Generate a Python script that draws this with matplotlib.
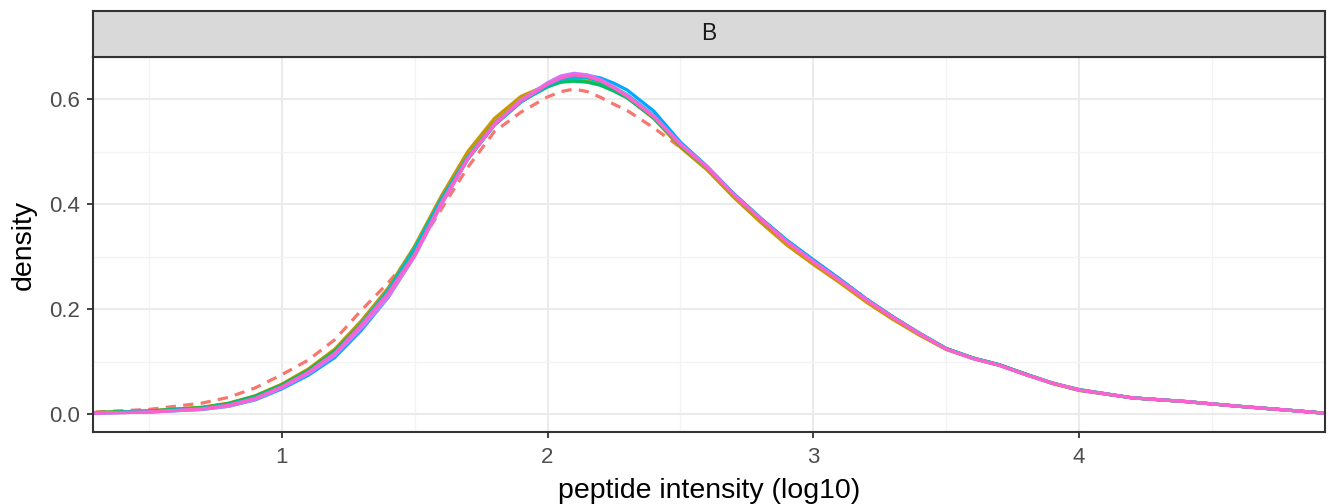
import matplotlib.pyplot as plt
from matplotlib.patches import Rectangle

plt.rcParams["font.family"] = ["Liberation Sans", "DejaVu Sans"]

# =========================
# data
# =========================
x_vals = [0.3, 0.5, 0.7, 0.8, 0.9,
          1.0, 1.1, 1.2, 1.3, 1.4, 1.5, 1.6, 1.7, 1.8, 1.9,
          2.0, 2.05, 2.1, 2.15, 2.2, 2.25, 2.3,
          2.4, 2.5, 2.6, 2.7, 2.8, 2.9,
          3.0, 3.1, 3.2, 3.3, 3.4, 3.5, 3.6, 3.7, 3.8, 3.9,
          4.0, 4.2, 4.4, 4.6, 4.8, 4.92]

# dashed reference sample
s1 = [0.004, 0.009, 0.021, 0.032, 0.050,
      0.075, 0.103, 0.142, 0.198, 0.250, 0.308, 0.390, 0.470, 0.538, 0.575,
      0.604, 0.614, 0.619, 0.614, 0.603, 0.590, 0.578,
      0.545, 0.508, 0.468, 0.417, 0.371, 0.327,
      0.289, 0.253, 0.216, 0.183, 0.152, 0.124, 0.107, 0.094, 0.076, 0.059,
      0.046, 0.031, 0.024, 0.015, 0.007, 0.002]
s2 = [0.003, 0.006, 0.013, 0.021, 0.035,
      0.057, 0.086, 0.124, 0.178, 0.240, 0.320, 0.415, 0.500, 0.563, 0.605,
      0.627, 0.634, 0.636, 0.634, 0.628, 0.617, 0.603,
      0.563, 0.508, 0.465, 0.413, 0.366, 0.322,
      0.285, 0.250, 0.213, 0.180, 0.150, 0.123, 0.106, 0.093, 0.075, 0.058,
      0.045, 0.031, 0.024, 0.015, 0.007, 0.002]
s3 = [0.003, 0.006, 0.013, 0.020, 0.034,
      0.056, 0.084, 0.121, 0.174, 0.235, 0.312, 0.405, 0.490, 0.555, 0.598,
      0.625, 0.633, 0.635, 0.633, 0.627, 0.616, 0.603,
      0.563, 0.510, 0.468, 0.417, 0.371, 0.329,
      0.292, 0.255, 0.218, 0.184, 0.153, 0.125, 0.107, 0.094, 0.076, 0.059,
      0.046, 0.031, 0.024, 0.015, 0.007, 0.002]
s4 = [0.003, 0.006, 0.012, 0.020, 0.034,
      0.055, 0.083, 0.120, 0.172, 0.232, 0.308, 0.400, 0.486, 0.551, 0.595,
      0.623, 0.632, 0.634, 0.632, 0.626, 0.615, 0.602,
      0.564, 0.512, 0.470, 0.419, 0.373, 0.331,
      0.293, 0.257, 0.219, 0.185, 0.154, 0.125, 0.107, 0.094, 0.076, 0.059,
      0.047, 0.031, 0.024, 0.015, 0.007, 0.002]
s5 = [0.002, 0.005, 0.011, 0.018, 0.031,
      0.052, 0.080, 0.117, 0.172, 0.236, 0.316, 0.410, 0.490, 0.552, 0.595,
      0.626, 0.637, 0.641, 0.640, 0.633, 0.622, 0.608,
      0.569, 0.515, 0.471, 0.420, 0.374, 0.331,
      0.293, 0.256, 0.219, 0.185, 0.154, 0.125, 0.107, 0.094, 0.076, 0.059,
      0.046, 0.031, 0.024, 0.015, 0.007, 0.002]
s6 = [0.002, 0.004, 0.009, 0.015, 0.027,
      0.048, 0.074, 0.108, 0.160, 0.222, 0.302, 0.400, 0.485, 0.550, 0.594,
      0.627, 0.640, 0.646, 0.645, 0.640, 0.630, 0.617,
      0.577, 0.518, 0.472, 0.420, 0.374, 0.331,
      0.294, 0.257, 0.219, 0.185, 0.153, 0.124, 0.106, 0.093, 0.075, 0.059,
      0.046, 0.031, 0.024, 0.015, 0.007, 0.002]
s7 = [0.002, 0.004, 0.009, 0.015, 0.028,
      0.050, 0.077, 0.112, 0.164, 0.222, 0.300, 0.398, 0.486, 0.552, 0.598,
      0.631, 0.644, 0.649, 0.646, 0.637, 0.623, 0.607,
      0.568, 0.515, 0.471, 0.419, 0.373, 0.329,
      0.291, 0.255, 0.218, 0.184, 0.153, 0.124, 0.106, 0.093, 0.075, 0.059,
      0.046, 0.031, 0.024, 0.015, 0.007, 0.002]
s8 = [0.002, 0.004, 0.010, 0.017, 0.030,
      0.052, 0.080, 0.116, 0.170, 0.230, 0.304, 0.402, 0.487, 0.552, 0.596,
      0.628, 0.640, 0.646, 0.643, 0.635, 0.621, 0.605,
      0.566, 0.513, 0.470, 0.418, 0.372, 0.328,
      0.290, 0.254, 0.217, 0.184, 0.153, 0.124, 0.106, 0.093, 0.075, 0.059,
      0.046, 0.031, 0.024, 0.015, 0.007, 0.002]

series = [s1, s2, s3, s4, s5, s6, s7, s8]
colors = ["#F8766D", "#CD9600", "#7CAE00", "#00BE67", "#00BFC4", "#00A9FF", "#C77CFF", "#FF61CC"]
dashed = [True, False, False, False, False, False, False, False]

facet_label = "B"
x_ticks = [1, 2, 3, 4]
y_ticks = [0.0, 0.2, 0.4, 0.6]

# =========================
# figure
# =========================
W, H = 1329, 504
fig = plt.figure(figsize=(W / 100, H / 100), dpi=100)
fig.patch.set_facecolor("white")

left, right, top, bottom = 93, 1325, 57, 432
ax = fig.add_axes([left / W, 1 - bottom / H, (right - left) / W, (bottom - top) / H])
ax.set_facecolor("white")

for y, is_dash, c in zip(series, dashed, colors):
    line, = ax.plot(x_vals, y, color=c, lw=2.3, solid_joinstyle="round")
    if is_dash:
        line.set_dashes((3.2, 2.3))

ax.set_xlim(0.29, 4.925)
ax.set_ylim(-0.034, 0.68)

ax.set_xticks(x_ticks)
ax.set_xticklabels([str(t) for t in x_ticks])
ax.set_yticks(y_ticks)
ax.set_yticklabels([f"{t:.1f}" for t in y_ticks])
ax.set_xticks([0.5, 1.5, 2.5, 3.5, 4.5], minor=True)
ax.set_yticks([0.1, 0.3, 0.5], minor=True)

ax.grid(True, which="major", color="#EBEBEB", lw=1.5)
ax.grid(True, which="minor", color="#F3F3F3", lw=0.9)
ax.set_axisbelow(True)

ax.tick_params(which="major", length=4.5, width=1.3, color="#333333",
               labelsize=16, labelcolor="#4D4D4D")
ax.tick_params(axis="x", pad=6)
ax.tick_params(axis="y", pad=4.5)
ax.tick_params(which="minor", length=0)

for sp in ax.spines.values():
    sp.set_color("#333333")
    sp.set_linewidth(1.5)

# axis titles
fig.text((left + right) / 2 / W, 1 - 491 / H, "peptide intensity (log10)",
         ha="center", va="center", fontsize=20.5, color="black")
fig.text(24 / W, 1 - 245 / H, "density", rotation=90,
         ha="center", va="center", fontsize=20.5, color="black")

# facet strip
sax = fig.add_axes([left / W, 1 - top / H, (right - left) / W, (top - 11) / H])
sax.set_xlim(0, 1)
sax.set_ylim(0, 1)
sax.add_patch(Rectangle((0, 0), 1, 1, facecolor="#D9D9D9", edgecolor="none"))
sax.set_xticks([])
sax.set_yticks([])
for sp in sax.spines.values():
    sp.set_color("#333333")
    sp.set_linewidth(1.5)
sax.text(0.5, 0.5, facet_label, ha="center", va="center", fontsize=16.5, color="#1A1A1A")

plt.savefig("out.png", dpi=100)
plt.close()
